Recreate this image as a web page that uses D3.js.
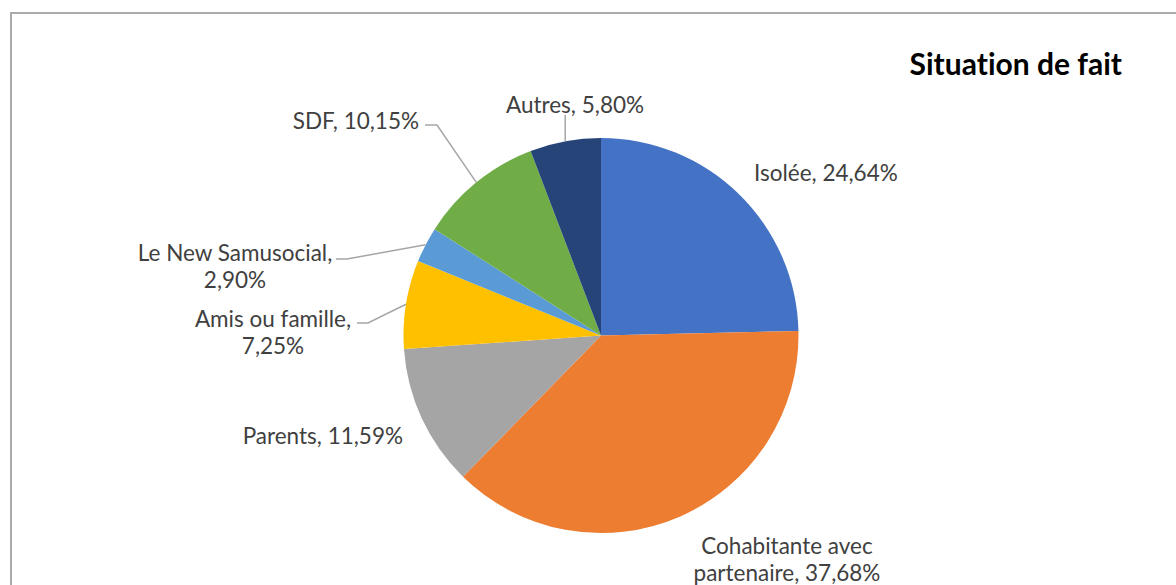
<!DOCTYPE html>
<html>
<head>
<meta charset="utf-8">
<script src="https://cdn.jsdelivr.net/npm/d3@7"></script>
<style>
  html, body { margin: 0; padding: 0; background: #fff; }
  svg { display: block; }
  text { font-variant-ligatures: none; font-feature-settings: "liga" 0; }
</style>
</head>
<body>
<div id="chart"></div>
<script>
// Situation de fait
const categories = ["Isolée", "Cohabitante avec partenaire", "Parents", "Amis ou famille", "Le New Samusocial", "SDF", "Autres"];
const values = [24.64, 37.68, 11.59, 7.25, 2.90, 10.15, 5.80];
const colors = ["#4472C4", "#ED7D31", "#A5A5A5", "#FFC000", "#5B9BD5", "#70AD47", "#264478"];
const title = "Situation de fait";

// label placement (Excel "best fit"), per category
const labelLayout = {
  "Isolée": { anchor: "start", x: 754, y: 172, breakAfter: 0 },
  "Cohabitante avec partenaire": { anchor: "middle", x: 787, y: 545, breakAfter: 2 },
  "Parents": { anchor: "end", x: 403, y: 435, breakAfter: 0 },
  "Amis ou famille": { anchor: "middle", x: 273, y: 318, breakAfter: 3, leader: [[368, 323], [357, 323]] },
  "Le New Samusocial": { anchor: "middle", x: 235, y: 252, breakAfter: 3, leader: [[347, 259], [336, 259]] },
  "SDF": { anchor: "end", x: 419, y: 120, breakAfter: 0, leader: [[437, 125], [425, 125]] },
  "Autres": { anchor: "middle", x: 575, y: 104, breakAfter: 0, leader: [[null, 115]] },
};

const width = 1176, height = 585;
const cx = 601, cy = 335.5, radius = 197.5;
const lineHeight = 27.5;

const fmt = (v) => d3.format(".2f")(v).replace(".", ",") + "%";

const svg = d3.select("#chart")
  .append("svg")
  .attr("width", width)
  .attr("height", height)
  .style("font-family", "Lato, 'Open Sans', sans-serif");

// chart area border (runs past the window on the right and bottom)
svg.append("rect")
  .attr("x", 11)
  .attr("y", 13)
  .attr("width", 1200)
  .attr("height", 600)
  .attr("fill", "none")
  .attr("stroke", "#ababab")
  .attr("stroke-width", 2);

svg.append("text")
  .attr("x", 1122)
  .attr("y", 63)
  .attr("text-anchor", "end")
  .attr("dominant-baseline", "central")
  .attr("font-weight", "bold")
  .attr("font-size", 30)
  .attr("fill", "#000")
  .text(title);

const data = categories.map((name, i) => ({ name, value: values[i], color: colors[i] }));

const pie = d3.pie()
  .sort(null)
  .value((d) => d.value);

const arc = d3.arc()
  .innerRadius(0)
  .outerRadius(radius);

const g = svg.append("g")
  .attr("transform", `translate(${cx}, ${cy})`);

const arcs = pie(data);

g.selectAll("path.slice")
  .data(arcs)
  .enter()
  .append("path")
  .attr("class", "slice")
  .attr("d", arc)
  .attr("fill", (d) => d.data.color);

// point on the rim at the middle of a slice, in page coordinates
const rimPoint = (d) => {
  const a = (d.startAngle + d.endAngle) / 2;
  return [cx + radius * Math.sin(a), cy - radius * Math.cos(a)];
};

// leader lines
arcs.forEach((d) => {
  const layout = labelLayout[d.data.name];
  if (!layout.leader) return;
  const start = rimPoint(d);
  const pts = [start].concat(layout.leader.map(([x, y]) => [x == null ? start[0] : x, y]));
  svg.append("path")
    .attr("d", d3.line()(pts))
    .attr("fill", "none")
    .attr("stroke", "#a6a6a6")
    .attr("stroke-width", 1.5);
});

// data labels
arcs.forEach((d) => {
  const layout = labelLayout[d.data.name];
  const words = `${d.data.name}, ${fmt(d.data.value)}`.split(" ");
  const lines = layout.breakAfter
    ? [words.slice(0, layout.breakAfter).join(" "), words.slice(layout.breakAfter).join(" ")]
    : [words.join(" ")];

  const text = svg.append("text")
    .attr("text-anchor", layout.anchor)
    .attr("font-size", 22.5)
    .attr("fill", "#404040");

  lines.forEach((line, i) => {
    text.append("tspan")
      .attr("x", layout.x)
      .attr("y", layout.y + i * lineHeight)
      .attr("dominant-baseline", "central")
      .text(line);
  });
});
</script>
</body>
</html>
